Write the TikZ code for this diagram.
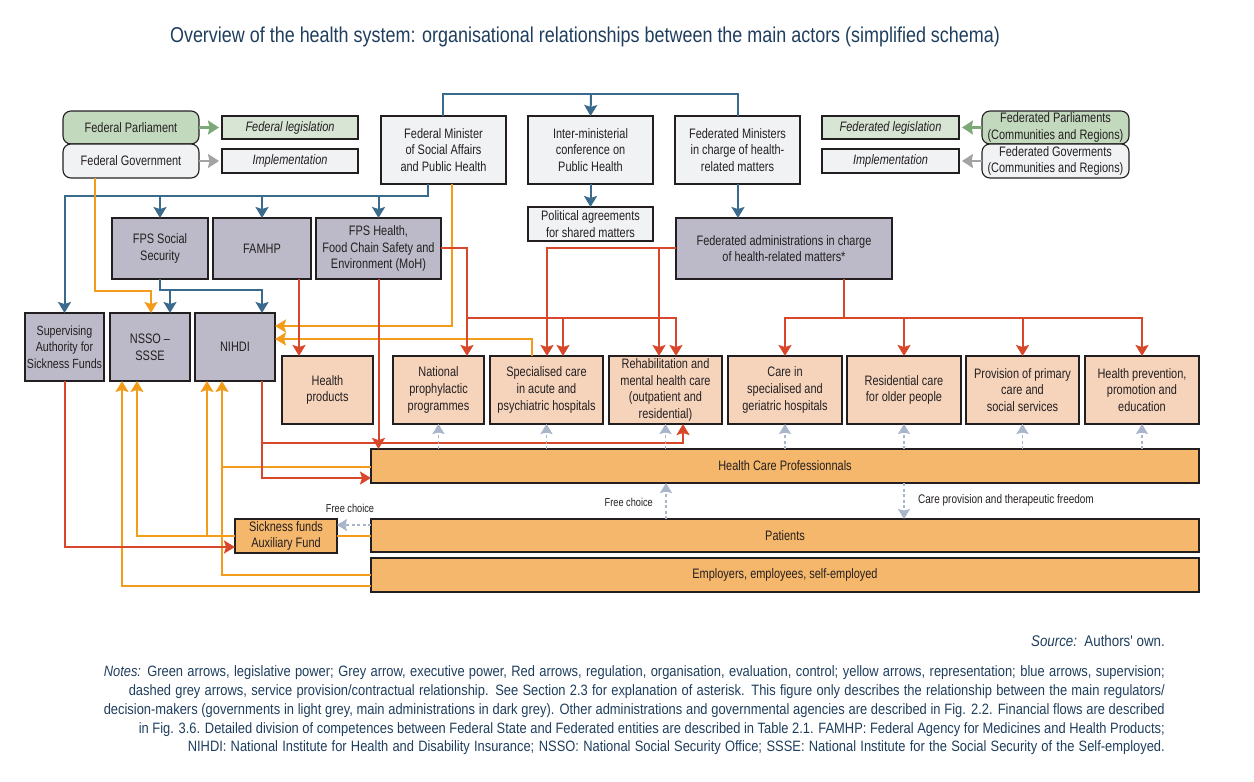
\documentclass[tikz,border=0pt]{standalone}
\usepackage{fontspec}
\setmainfont{Liberation Sans}[FakeStretch=0.8]
\newfontfamily\notefont{Liberation Sans}[FakeStretch=0.86]
\newfontfamily\titlefont{Liberation Sans}[FakeStretch=0.835]
\usetikzlibrary{arrows.meta}
\definecolor{cblue}{HTML}{3B6B8C}
\definecolor{cred}{HTML}{D9472B}
\definecolor{corange}{HTML}{F39C1A}
\definecolor{cgreen}{HTML}{7DA878}
\definecolor{cgreyarr}{HTML}{A3A3A3}
\definecolor{cdash}{HTML}{A9B6CA}
\definecolor{fgreen}{HTML}{C3D9BE}
\definecolor{flgreen}{HTML}{D8E5D4}
\definecolor{flight}{HTML}{F1F2F4}
\definecolor{fdark}{HTML}{BCBAC8}
\definecolor{fpeach}{HTML}{F6D4BC}
\definecolor{forange}{HTML}{F5B76B}
\definecolor{ctext}{HTML}{1F3E5E}
\definecolor{cbox}{HTML}{231F20}
\newcommand\fsz[2]{\fontsize{#1}{#2}\selectfont}
\newcommand\placebox[7]{\node[#6, minimum width={(#4)-(#2)}, minimum height={(#5)-(#3)}] (#1) at ({((#2)+(#4))/2},{((#3)+(#5))/2}) {#7};}
\newcommand\noteline[2]{\makebox[#1pt][s]{#2}}
\tikzset{
  box/.style={draw=cbox, line width=1.1pt, inner sep=0pt, outer sep=0pt, align=center, text=cbox, font=\fsz{13.7}{16.7}},
  rbox/.style={box, rounded corners=8pt},
  bline/.style={draw=cblue, line width=2pt},
  rline/.style={draw=cred, line width=2pt},
  oline/.style={draw=corange, line width=2pt},
  dline/.style={draw=cdash, line width=1.5pt, dash pattern=on 3pt off 2.5pt, -{Stealth[width=12pt,length=10pt,inset=1.5pt]}},
  gline/.style={line width=2.5pt, -{Stealth[width=14pt,length=11pt,inset=1.5pt]}, shorten >=3pt},
  lbl/.style={font=\fsz{11.5}{13}, text=cbox, inner sep=0pt},
  note/.style={font=\notefont\fsz{15}{17}, text=ctext, inner sep=0pt, anchor=east}
}
\begin{document}
\begin{tikzpicture}[x=1pt,y=-1pt, >={Stealth[width=13pt,length=11pt,inset=2pt]}]
\useasboundingbox (0,0) rectangle (1254,782);
\node[font=\titlefont\fsz{21.5}{25}, text=ctext, inner sep=0pt] (title) at (585,37) {Overview of the health system: organisational relationships between the main actors (simplified schema)};

% top row
\placebox{fedparl}{63}{111}{199}{144}{rbox,fill=fgreen}{Federal Parliament}
\placebox{fedgov}{63}{144}{199}{178}{rbox,fill=flight}{Federal Government}
\placebox{fedleg}{222}{116}{358}{139}{box,fill=flgreen}{\textit{Federal legislation}}
\placebox{impl}{222}{149}{358}{173}{box,fill=flight}{\textit{Implementation}}
\placebox{fedmin}{381}{116}{506}{184}{box,fill=flight}{Federal Minister\\of Social Affairs\\and Public Health}
\placebox{intermin}{528}{116}{653}{184}{box,fill=flight}{Inter-ministerial\\conference on\\Public Health}
\placebox{fedmins}{675}{116}{800}{184}{box,fill=flight}{Federated Ministers\\in charge of health-\\related matters}
\placebox{fedleg2}{822}{116}{959}{139}{box,fill=flgreen}{\textit{Federated legislation}}
\placebox{impl2}{822}{149}{959}{173}{box,fill=flight}{\textit{Implementation}}
\placebox{fedparls}{982}{111}{1129}{144}{rbox,fill=fgreen}{Federated Parliaments\\(Communities and Regions)}
\placebox{fedgovs}{982}{144}{1129}{178}{rbox,fill=flight}{Federated Goverments\\(Communities and Regions)}
\placebox{polagr}{528}{207}{653}{241}{box,fill=flight}{Political agreements\\for shared matters}
\placebox{fedadmin}{676}{218}{892}{279}{box,fill=fdark}{Federated administrations in charge\\of health-related matters*}
% administrations
\placebox{fpsss}{112}{218}{208}{279}{box,fill=fdark}{FPS Social\\Security}
\placebox{famhp}{213}{218}{311}{279}{box,fill=fdark}{FAMHP}
\placebox{fpsh}{316}{218}{441}{279}{box,fill=fdark}{FPS Health,\\Food Chain Safety and\\Environment (MoH)}
\placebox{supauth}{25}{313}{104}{381}{box,fill=fdark,font=\fsz{13.3}{16.7}}{Supervising\\Authority for\\Sickness Funds}
\placebox{nsso}{110}{313}{190}{381}{box,fill=fdark}{NSSO --\\SSSE}
\placebox{nihdi}{195}{313}{275}{381}{box,fill=fdark}{NIHDI}
% services
\placebox{hprod}{282}{356}{373}{424}{box,fill=fpeach}{Health\\products}
\placebox{natproph}{393}{356}{484}{424}{box,fill=fpeach}{National\\prophylactic\\programmes}
\placebox{spec}{490}{356}{603}{424}{box,fill=fpeach}{Specialised care\\in acute and\\psychiatric hospitals}
\placebox{rehab}{609}{356}{722}{424}{box,fill=fpeach}{Rehabilitation and\\mental health care\\(outpatient and\\residential)}
\placebox{caresp}{728}{356}{842}{424}{box,fill=fpeach}{Care in\\specialised and\\geriatric hospitals}
\placebox{resid}{847}{356}{961}{424}{box,fill=fpeach}{Residential care\\for older people}
\placebox{prov}{966}{356}{1079}{424}{box,fill=fpeach}{Provision of primary\\care and\\social services}
\placebox{hprev}{1085}{356}{1199}{424}{box,fill=fpeach}{Health prevention,\\promotion and\\education}
% bars
\placebox{hcp}{371}{449}{1199}{483}{box,fill=forange}{Health Care Professionnals}
\placebox{patients}{371}{519}{1199}{552}{box,fill=forange}{Patients}
\placebox{employers}{371}{558}{1199}{592}{box,fill=forange}{Employers, employees, self-employed}
\placebox{sick}{235}{519}{337}{553}{box,fill=forange}{Sickness funds\\Auxiliary Fund}

% green / grey arrows
\draw[gline, draw=cgreen] (fedparl.east) -- (fedleg.west);
\draw[gline, draw=cgreyarr] (fedgov.east) -- (impl.west);
\draw[gline, draw=cgreen] (fedparls.west) -- (fedleg2.east);
\draw[gline, draw=cgreyarr] (fedgovs.west) -- (impl2.east);

% blue
\draw[bline] (fedmin.north -| 443,0) |- (738,94) -- (fedmins.north -| 738,0);
\draw[bline,->] (591,94) -- (intermin.north);
\draw[bline,->] (intermin.south) -- (polagr.north);
\draw[bline,->] (fedmins.south -| 738,0) -- (fedadmin.north -| 738,0);
\draw[bline,->] (fedmin.south -| 428,0) |- (64.5,196) -- (supauth.north);
\draw[bline,->] (fpsss.north |- 0,196) -- (fpsss.north);
\draw[bline,->] (famhp.north |- 0,196) -- (famhp.north);
\draw[bline,->] (fpsh.north |- 0,196) -- (fpsh.north);
\draw[bline,->] (fpsss.south) |- (262,290) -- (nihdi.north -| 262,0);
\draw[bline,->] (170,290) -- (nsso.north -| 170,0);

% orange
\draw[oline,->] (fedgov.south -| 95,0) |- (151,291) -- (nsso.north -| 151,0);
\draw[oline,->] (fedmin.south -| 452,0) |- (nihdi.east |- 0,326);
\draw[oline,->] (spec.north -| 532,0) |- (nihdi.east |- 0,339);
\draw[oline] (patients.west |- 0,536) -- (sick.east |- 0,536);
\draw[oline,->] (sick.west |- 0,536) -| (nsso.south -| 137,0);
\draw[oline,->] (207,536) -- (nihdi.south -| 207,0);
\draw[oline,->] (employers.west |- 0,575) -| (nihdi.south -| 222,0);
\draw[oline] (hcp.west |- 0,467) -- (222,467);
\draw[oline,->] (employers.west |- 0,586) -| (nsso.south -| 122,0);

% red
\draw[rline,->] (supauth.south) |- (sick.west |- 0,547);
\draw[rline,->] (nihdi.south -| 262,0) |- (hcp.west |- 0,478);
\draw[rline,->] (262,443) -| (rehab.south -| 683,0);
\draw[rline,->] (famhp.south -| 299,0) -- (hprod.north -| 299,0);
\draw[rline,->] (fpsh.south) -- (hcp.north -| fpsh.south);
\draw[rline,->] (fpsh.east |- 0,248) -| (natproph.north -| 467,0);
\draw[rline,->] (467,317.5) -| (rehab.north -| 676,0);
\draw[rline,->] (563,317.5) -- (spec.north -| 563,0);
\draw[rline,->] (fedadmin.west |- 0,248) -| (spec.north -| 547,0);
\draw[rline,->] (659,248) -- (rehab.north -| 659,0);
\draw[rline,->] (fedadmin.south -| 844,0) |- (785,317.5) -- (caresp.north);
\draw[rline,->] (844,317.5) -| (hprev.north);
\draw[rline,->] (resid.north |- 0,317.5) -- (resid.north);
\draw[rline,->] (prov.north |- 0,317.5) -- (prov.north);

% dashed service provision
\foreach \b in {natproph,spec,rehab,caresp,resid,prov,hprev}
  \draw[dline] (hcp.north -| \b.south) -- (\b.south);
\draw[dline] (hcp.south -| 904,0) -- (patients.north -| 904,0);
\draw[dline] (patients.north -| 666,0) -- (hcp.south -| 666,0);
\draw[dline] (patients.west |- 0,525) -- (sick.east |- 0,525);
\node[lbl, anchor=west, font=\fsz{12.5}{14}] (lcare) at (918,500) {Care provision and therapeutic freedom};
\node[lbl, anchor=east] (lfree1) at (653,502) {Free choice};
\node[lbl] (lfree2) at (350,508) {Free choice};

% source and notes
\node[note, font=\notefont\fsz{15.5}{17}] (src) at (1165,641) {\textit{Source:}\ \ Authors' own.};
\node[note] (n1) at (1165,673) {\noteline{1061}{\textit{Notes:} Green arrows, legislative power; Grey arrow, executive power, Red arrows, regulation, organisation, evaluation, control; yellow arrows, representation; blue arrows, supervision;}};
\node[note] (n2) at (1165,692) {\noteline{1036}{dashed grey arrows, service provision/contractual relationship. See Section 2.3 for explanation of asterisk. This figure only describes the relationship between the main regulators/}};
\node[note] (n3) at (1165,711) {\noteline{1061}{decision-makers (governments in light grey, main administrations in dark grey). Other administrations and governmental agencies are described in Fig. 2.2. Financial flows are described}};
\node[note] (n4) at (1165,730) {\noteline{1026}{in Fig. 3.6. Detailed division of competences between Federal State and Federated entities are described in Table 2.1. FAMHP: Federal Agency for Medicines and Health Products;}};
\node[note] (n5) at (1165,748) {\noteline{977}{NIHDI: National Institute for Health and Disability Insurance; NSSO: National Social Security Office; SSSE: National Institute for the Social Security of the Self-employed.}};
\end{tikzpicture}
\end{document}
